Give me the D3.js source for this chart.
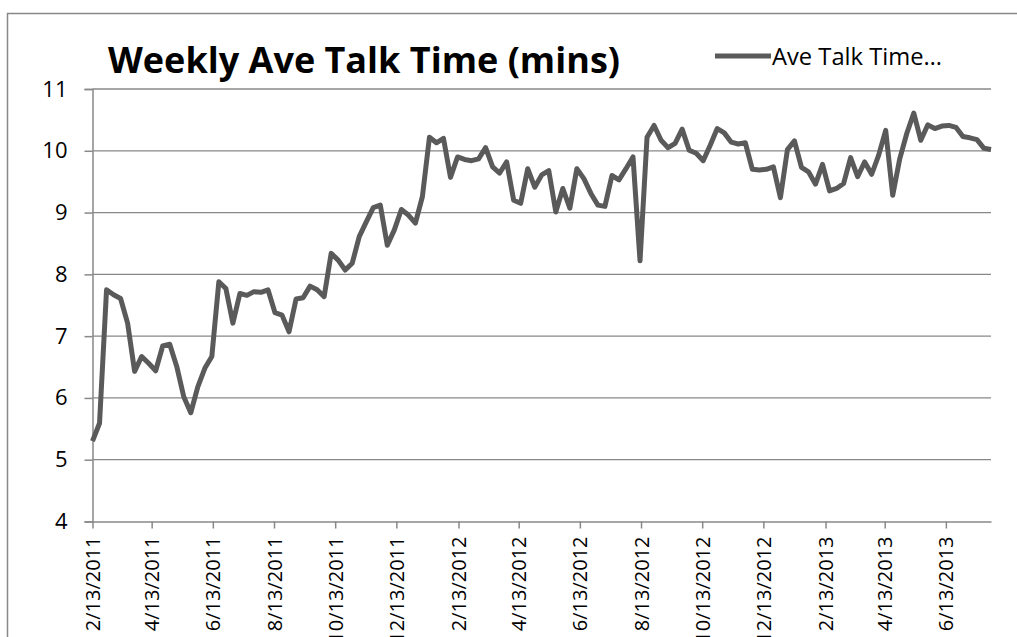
<!DOCTYPE html>
<html>
<head>
<meta charset="utf-8">
<script src="https://cdn.jsdelivr.net/npm/d3@7"></script>
<style>
  html, body { margin: 0; padding: 0; background: #fff; }
  svg { display: block; }
</style>
</head>
<body>
<svg id="chart" width="1017" height="637"></svg>
<script>
// ---- data ----
const startDate = "2011-02-13";   // first week; one point per week
const seriesName = "Ave Talk Time\u2026";
const chartTitle = "Weekly Ave Talk Time (mins)";
const values = [
  5.30, 5.59, 7.75, 7.67, 7.61, 7.21, 6.43, 6.67, 6.56, 6.44,
  6.84, 6.87, 6.51, 6.02, 5.76, 6.18, 6.48, 6.67, 7.88, 7.77,
  7.21, 7.69, 7.66, 7.72, 7.71, 7.75, 7.38, 7.34, 7.07, 7.60,
  7.62, 7.81, 7.75, 7.64, 8.34, 8.23, 8.07, 8.18, 8.61, 8.85,
  9.08, 9.12, 8.47, 8.72, 9.05, 8.96, 8.83, 9.26, 10.22, 10.13,
  10.20, 9.57, 9.90, 9.86, 9.84, 9.87, 10.05, 9.74, 9.64, 9.82,
  9.20, 9.15, 9.71, 9.41, 9.61, 9.68, 9.01, 9.39, 9.07, 9.71,
  9.55, 9.31, 9.12, 9.10, 9.60, 9.53, 9.71, 9.90, 8.22, 10.22,
  10.41, 10.17, 10.05, 10.12, 10.35, 10.01, 9.96, 9.84, 10.09, 10.36,
  10.29, 10.14, 10.11, 10.13, 9.70, 9.69, 9.70, 9.74, 9.24, 10.02,
  10.16, 9.73, 9.66, 9.46, 9.78, 9.35, 9.39, 9.47, 9.89, 9.58,
  9.82, 9.62, 9.93, 10.33, 9.28, 9.87, 10.28, 10.61, 10.17, 10.42,
  10.36, 10.40, 10.41, 10.38, 10.23, 10.21, 10.18, 10.04, 10.02
];
const xTickLabels = [
  "2/13/2011", "4/13/2011", "6/13/2011", "8/13/2011", "10/13/2011",
  "12/13/2011", "2/13/2012", "4/13/2012", "6/13/2012", "8/13/2012",
  "10/13/2012", "12/13/2012", "2/13/2013", "4/13/2013", "6/13/2013"
];
const yTicks = [4, 5, 6, 7, 8, 9, 10, 11];

// ---- build ----
const parseISO = d3.utcParse("%Y-%m-%d");
const parseMDY = d3.utcParse("%m/%d/%Y");
const start = parseISO(startDate);
const data = values.map((v, i) => ({ date: d3.utcDay.offset(start, 7 * i), value: v }));
const tickDates = xTickLabels.map(s => parseMDY(s));

const svg = d3.select("#chart");
const grey = "#888888";
const plotL = 92.5, plotR = 991, plotT = 89, plotB = 521.5;

const x = d3.scaleUtc()
  .domain([start, data[data.length - 1].date])
  .range([plotL, plotR]);
const y = d3.scaleLinear().domain([4, 11]).range([plotB, plotT]);

// chart border
svg.append("rect")
  .attr("x", 7.5).attr("y", 13.5)
  .attr("width", 1040).attr("height", 700)
  .attr("fill", "none").attr("stroke", grey).attr("stroke-width", 1.5);

// gridlines
svg.append("g").selectAll("line").data(yTicks.filter(t => t > 4)).join("line")
  .attr("x1", plotL).attr("x2", plotR)
  .attr("y1", d => y(d)).attr("y2", d => y(d))
  .attr("stroke", grey).attr("stroke-width", 1.3);

// y axis
const yAxis = svg.append("g")
  .attr("transform", `translate(${plotL},0)`)
  .call(d3.axisLeft(y).tickValues(yTicks).tickFormat(d3.format("d")).tickSize(8).tickPadding(17));
yAxis.select(".domain").attr("stroke", grey).attr("stroke-width", 1.5);
yAxis.selectAll(".tick line").attr("stroke", grey).attr("stroke-width", 1.5);
yAxis.selectAll(".tick text")
  .attr("fill", "#000")
  .style("font-family", "'Open Sans', 'Noto Sans', sans-serif")
  .style("font-size", "22px");

// x axis
const xAxis = svg.append("g")
  .attr("transform", `translate(0,${plotB})`)
  .call(d3.axisBottom(x).tickValues(tickDates)
    .tickFormat((d, i) => xTickLabels[i]).tickSize(7).tickSizeOuter(0));
xAxis.select(".domain").attr("stroke", grey).attr("stroke-width", 1.5);
xAxis.selectAll(".tick line").attr("stroke", grey).attr("stroke-width", 1.5);
xAxis.selectAll(".tick text")
  .attr("fill", "#000")
  .style("font-family", "'Open Sans', 'Noto Sans', sans-serif")
  .style("font-size", "20px")
  .attr("text-anchor", "end")
  .attr("dy", "0.35em")
  .attr("y", 0)
  .attr("transform", "translate(0,15) rotate(-90)");

// line
const line = d3.line()
  .x(d => x(d.date))
  .y(d => y(d.value));
svg.append("path")
  .datum(data)
  .attr("d", line)
  .attr("fill", "none")
  .attr("stroke", "#5a5a5a")
  .attr("stroke-width", 5)
  .attr("stroke-linejoin", "round");

// title
svg.append("text")
  .attr("x", 108).attr("y", 73)
  .attr("textLength", 512).attr("lengthAdjust", "spacingAndGlyphs")
  .style("font-family", "'Open Sans', 'Noto Sans', sans-serif")
  .style("font-weight", "bold")
  .style("font-size", "36px")
  .attr("fill", "#000")
  .text(chartTitle);

// legend
svg.append("line")
  .attr("x1", 715).attr("x2", 771)
  .attr("y1", 56).attr("y2", 56)
  .attr("stroke", "#5a5a5a").attr("stroke-width", 5);
svg.append("text")
  .attr("x", 772).attr("y", 65)
  .attr("textLength", 170).attr("lengthAdjust", "spacingAndGlyphs")
  .style("font-family", "'Open Sans', 'Noto Sans', sans-serif")
  .style("font-size", "24px")
  .attr("fill", "#000")
  .text(seriesName);
</script>
</body>
</html>
